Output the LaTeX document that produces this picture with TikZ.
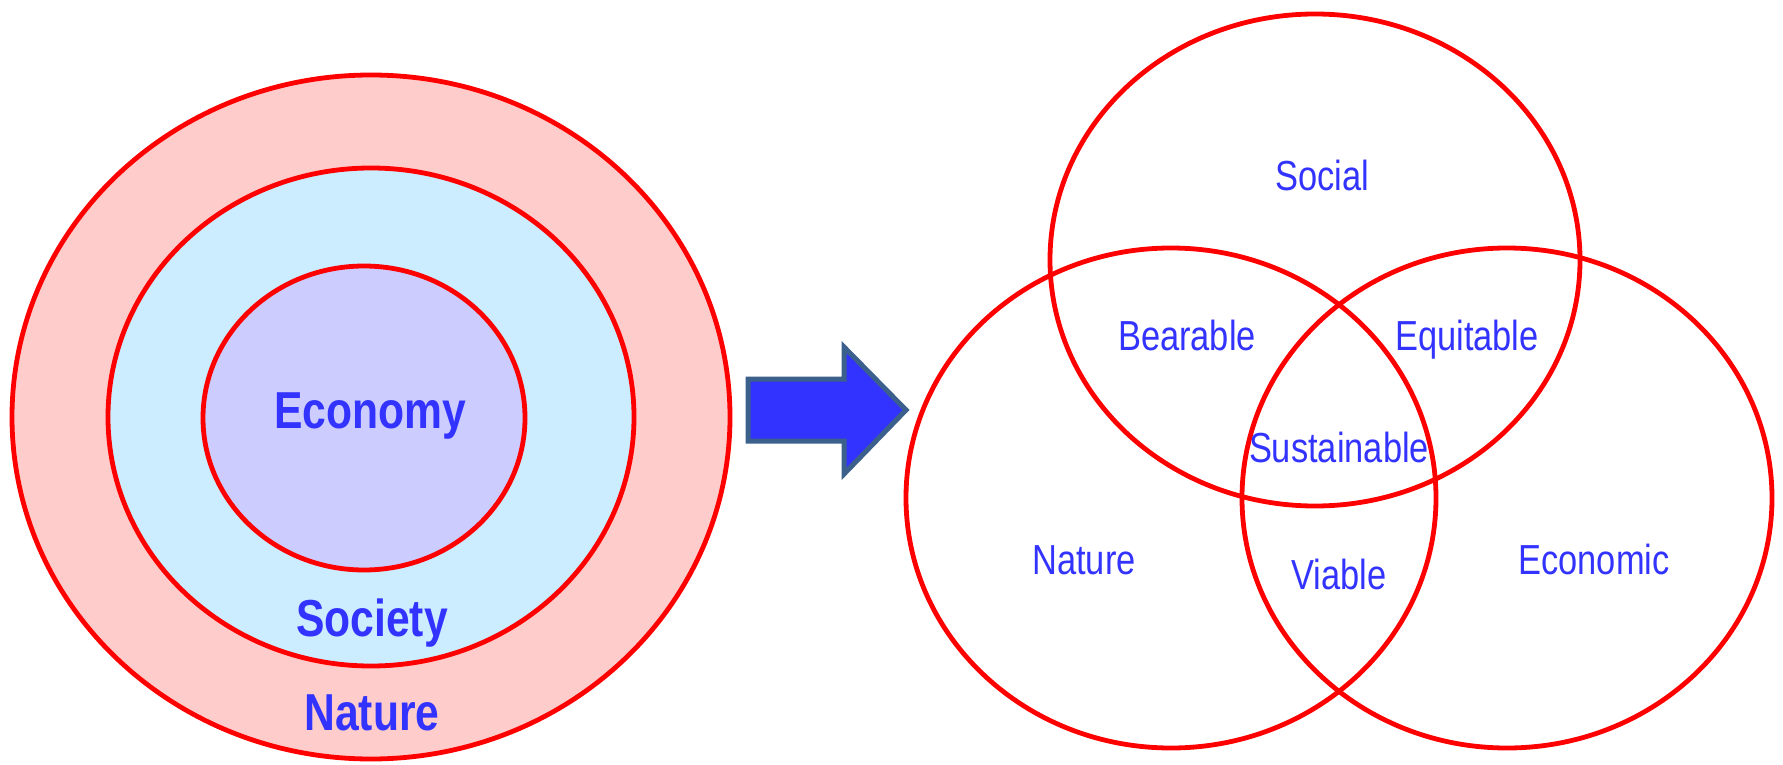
\documentclass[tikz,border=0pt]{standalone}
\usepackage{fontspec}
\setmainfont{Liberation Sans}
\newfontfamily\narrowsans[FakeStretch=0.82]{Liberation Sans}
\usetikzlibrary{shapes.geometric}
\definecolor{ringred}{RGB}{255,0,0}
\definecolor{labelblue}{RGB}{51,51,255}
\definecolor{naturepink}{RGB}{255,204,204}
\definecolor{societyblue}{RGB}{204,236,255}
\definecolor{economyblue}{RGB}{204,204,255}
\definecolor{arrowfill}{RGB}{51,51,255}
\definecolor{arrowedge}{RGB}{60,96,140}
\begin{document}
\begin{tikzpicture}[x=0.5pt, y=-0.5pt, thick,
  ring/.style = {ellipse, draw=ringred, line width=2.4pt, inner sep=0pt},
  big/.style = {font={\narrowsans\bfseries\fontsize{26}{30}\selectfont}, text=labelblue, anchor=base},
  small/.style = {font={\narrowsans\fontsize{21}{25}\selectfont}, text=labelblue, anchor=base}]
\useasboundingbox (0,0) rectangle (1783,765);
% nested model
\node[ring, fill=naturepink, minimum width=359pt, minimum height=342pt] (nature) at (371,417) {};
\node[ring, fill=societyblue, minimum width=263pt, minimum height=249pt] (society) at (371,417) {};
\node[ring, fill=economyblue, minimum width=161pt, minimum height=152pt] (economy) at (364,418) {};
\node[big] (economytext) at (370,428) {Economy};
\node[big] (societytext) at (372,636) {Society};
\node[big] (naturetext) at (372,730) {Nature};
% block arrow
\draw[fill=arrowfill, draw=arrowedge, line width=2.5pt, line join=miter]
  (748,379) -- (844,379) -- (844,347) -- (906,410) -- (844,474) -- (844,441) -- (748,441) -- cycle;
% three pillars
\node[ring, minimum width=265pt, minimum height=246pt] (social) at (1315,260) {};
\node[ring, minimum width=265pt, minimum height=250pt] (natural) at (1171,498) {};
\node[ring, minimum width=265pt, minimum height=250pt] (economic) at (1507,498) {};
\node[small] (socialtext) at (1322,191) {Social};
\node[small] (bearable) at (1187,350) {Bearable};
\node[small] (equitable) at (1467,350) {Equitable};
\node[small] (sustainable) at (1339,462) {Sustainable};
\node[small] (naturaltext) at (1084,574) {Nature};
\node[small] (viable) at (1339,589) {Viable};
\node[small] (economictext) at (1594,574) {Economic};
\end{tikzpicture}
\end{document}
